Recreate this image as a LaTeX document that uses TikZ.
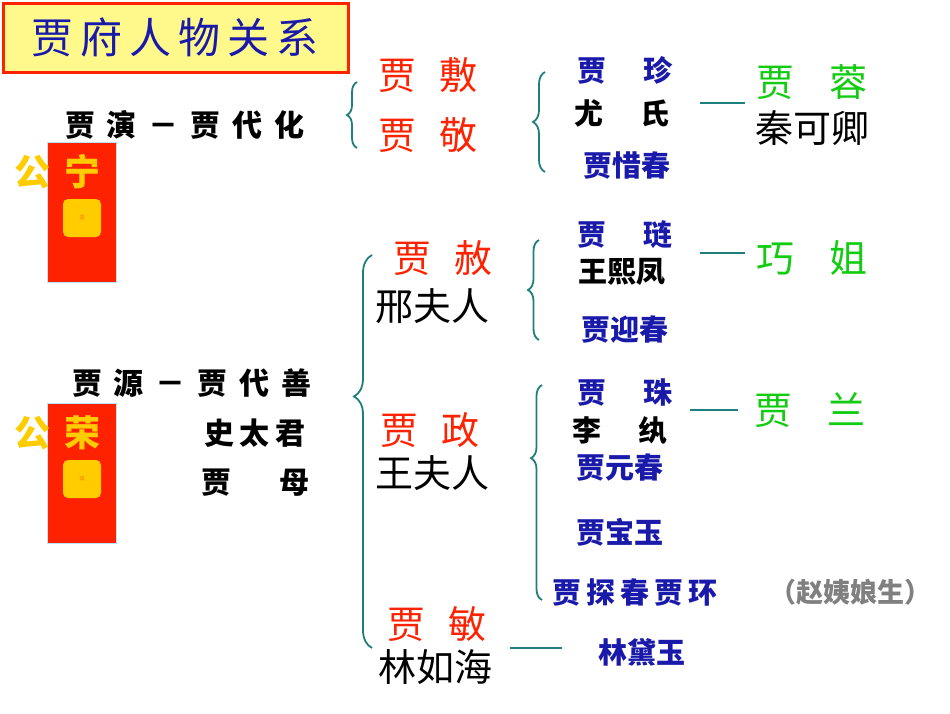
\documentclass[tikz,border=0pt]{standalone}
\usepackage{fontspec}
\setmainfont{Noto Sans CJK SC}
\newfontfamily\cjkb{Noto Sans CJK SC Black}
\usetikzlibrary{decorations.pathreplacing}
\definecolor{tl}{HTML}{1F7F7F}
\definecolor{rd}{HTML}{FF2200}
\definecolor{bl}{HTML}{1A1AAA}
\definecolor{gr}{HTML}{11CC11}
\definecolor{gy}{HTML}{FFCC00}
\tikzset{
 big/.style={font=\fontsize{38}{40}\selectfont},
 redn/.style={big,text=rd},
 blk/.style={big,text=black},
 grn/.style={big,text=gr},
 bln/.style={font=\cjkb\fontsize{29}{31}\selectfont,text=bl},
 blkb/.style={font=\cjkb\fontsize{29}{31}\selectfont,text=black},
 anc/.style={font=\cjkb\fontsize{30}{32}\selectfont,text=black},
 br/.style={draw=tl,line width=1.8pt,decorate},
 ln/.style={draw=tl,line width=1.8pt},
 gong/.style={font=\cjkb\fontsize{36}{38}\selectfont,text=gy},
}
\begin{document}
\begin{tikzpicture}[x=1pt,y=-1pt]
\useasboundingbox (0,0) rectangle (950,713);
\node[draw=rd,line width=3pt,fill=yellow!45,minimum width=345,minimum height=69,anchor=north west,inner sep=0] (title) at (1.5,1.5) {};
\node[font=\itshape\fontsize{42}{44}\selectfont,text=bl] (tt) at (title) {贾\,府\,人\,物\,关\,系};
% left panels
\foreach \y/\c/\n in {142/宁/ning,403/荣/rong}{
 \node[fill=rd,draw=cyan!30,minimum width=69,minimum height=140,anchor=north west,inner sep=0] (p\n) at (47,\y) {};
 \node[gong] (g\n) at (32,\y+30) {公};
 \node[gong] (c\n) at (82,\y+30) {\c};
 \node[fill=gy,rounded corners=5,minimum size=38,inner sep=0,font=\tiny,text=orange] (k\n) at (82,\y+76) {国};
}
\node[anc] (a1) at (185,125) {贾\hspace{0.4em}演\hspace{0.4em}－\hspace{0.4em}贾\hspace{0.4em}代\hspace{0.4em}化};
\node[anc] (a2) at (192,383) {贾\hspace{0.4em}源\hspace{0.4em}－\hspace{0.4em}贾\hspace{0.4em}代\hspace{0.4em}善};
\node[anc] (a3) at (255,433) {史\hspace{0.2em}太\hspace{0.2em}君};
\node[anc] (a4) at (255,483) {贾\hspace{1.6em}母};
% braces
\draw[br,decoration={brace,amplitude=10}] (357,148) -- (357,82);
\draw[br,decoration={brace,amplitude=12}] (545,172) -- (545,72);
\draw[br,decoration={brace,amplitude=18,aspect=0.64}] (372,648) -- (372,255);
\draw[br,decoration={brace,amplitude=11}] (539,340) -- (539,240);
\draw[br,decoration={brace,amplitude=11,aspect=0.66}] (542,600) -- (542,385);
% gen 2
\node[redn] (fu) at (428,75) {贾\hspace{0.6em}敷};
\node[redn] (jing) at (428,135) {贾\hspace{0.6em}敬};
\node[redn] (she) at (443,258) {贾\hspace{0.6em}赦};
\node[blk] (xing) at (432,306) {邢夫人};
\node[redn] (zheng) at (430,430) {贾\hspace{0.6em}政};
\node[blk] (wang) at (432,473) {王夫人};
\node[redn] (min) at (437,624) {贾\hspace{0.6em}敏};
\node[blk] (lin) at (435,667) {林如海};
% gen 3
\node[bln] (zhen) at (625,70) {贾\hspace{1.3em}珍};
\node[blkb] (you) at (622,113) {尤\hspace{1.3em}氏};
\node[bln] (xi) at (627,165) {贾惜春};
\node[bln] (lian) at (625,235) {贾\hspace{1.3em}琏};
\node[blkb] (xifeng) at (622,272) {王熙凤};
\node[bln] (ying) at (625,330) {贾迎春};
\node[bln] (zhu) at (625,392) {贾\hspace{1.3em}珠};
\node[blkb] (li) at (620,430) {李\hspace{1.3em}纨};
\node[bln] (yuan) at (620,467) {贾元春};
\node[bln] (bao) at (620,532) {贾宝玉};
\node[bln] (tan) at (635,592) {贾\,探\,春\,贾\,环};
\node[font=\cjkb\fontsize{27}{29}\selectfont,text=gray] (zhao) at (850,592) {（赵姨娘生）};
\node[bln] (dai) at (642,652) {林黛玉};
% gen 4
\node[grn] (rong) at (812,82) {贾\hspace{0.9em}蓉};
\node[blk] (qin) at (812,128) {秦可卿};
\node[grn] (qiao) at (812,258) {巧\hspace{0.9em}姐};
\node[grn] (lan) at (810,410) {贾\hspace{0.9em}兰};
% lines
\coordinate (l1) at (700,103); \coordinate (l1e) at (745,103);
\draw[ln] (l1) -- (l1e);
\coordinate (l2) at (700,253); \coordinate (l2e) at (745,253);
\draw[ln] (l2) -- (l2e);
\coordinate (l3) at (690,410); \coordinate (l3e) at (738,410);
\draw[ln] (l3) -- (l3e);
\coordinate (l4) at (510,648); \coordinate (l4e) at (562,648);
\draw[ln] (l4) -- (l4e);
\end{tikzpicture}
\end{document}
